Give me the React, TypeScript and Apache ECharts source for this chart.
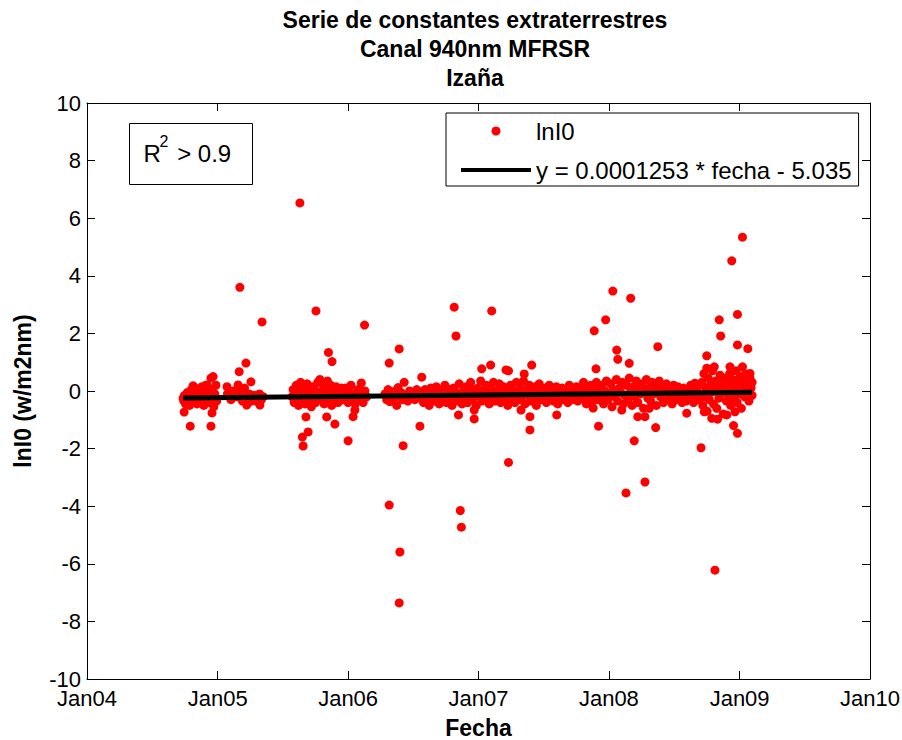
import React, { useEffect, useRef } from "react";
import * as echarts from "echarts";

const FONT = '"Liberation Sans", Arial, Helvetica, sans-serif';

// Excel serial dates ("fecha") of the January ticks
const tickFecha = [37987, 38353, 38718, 39083, 39448, 39814, 40179];
const tickLabels = ["Jan04", "Jan05", "Jan06", "Jan07", "Jan08", "Jan09", "Jan10"];
const yTicks = [-10, 10, 2];

// lnI0 values [fecha, lnI0], grouped by period
const late2004: [number, number][] = [
  [38256, -0.25], [38258, -0.35], [38259, -0.73], [38260, -0.15], [38263, -0.45], [38266, -0.2], [38268, -0.05],
  [38271, -0.3], [38274, -0.5], [38276, -0.1], [38276, -1.22], [38279, 0.05], [38281, -0.25], [38284, 0.18],
  [38284, -0.4], [38287, -0.15], [38289, 0.12], [38292, -0.3], [38295, -0.45], [38298, -0.2], [38300, 0.0],
  [38303, -0.35], [38306, -0.1], [38309, 0.15], [38311, -0.25], [38314, -0.5], [38317, -0.05], [38320, 0.2],
  [38322, -0.3], [38323, 0.21], [38325, 0.1], [38328, -0.4], [38331, -0.15], [38334, 0.45], [38334, -1.22],
  [38336, 0.05], [38337, -0.76], [38339, -0.25], [38340, 0.5], [38342, -0.55], [38345, -0.1], [38348, 0.2],
  [38350, -0.35],
];
const early2005: [number, number][] = [
  [38379, 0.15], [38380, -0.1], [38390, -0.3], [38398, 0.0], [38405, -0.2], [38410, 0.21], [38413, 0.67],
  [38415, 3.6], [38418, -0.05], [38422, -0.35], [38428, 0.1], [38432, 0.97], [38434, -0.49], [38438, -0.25],
  [38441, -0.1], [38443, -0.37], [38446, 0.32], [38450, -0.3], [38455, -0.15], [38460, -0.35], [38465, -0.2],
  [38470, -0.1], [38471, -0.49], [38475, -0.3], [38477, 2.4], [38480, -0.2],
];
const late2005: [number, number][] = [
  [38561, -0.2], [38564, 0.05], [38567, -0.4], [38570, -0.1], [38573, 0.2], [38576, -0.3], [38579, -0.5],
  [38582, -0.05], [38583, 6.53], [38585, 0.3], [38588, -0.25], [38590, -1.6], [38591, -0.15], [38592, -1.91],
  [38594, 0.1], [38597, -0.45], [38600, -0.2], [38600, -0.9], [38603, 0.25], [38606, 0.0], [38606, -1.42],
  [38609, -0.35], [38612, -0.1], [38615, -0.55], [38618, 0.15], [38621, -0.2], [38624, 0.05], [38627, -0.4],
  [38628, 2.78], [38630, -0.15], [38633, 0.3], [38636, -0.05], [38639, 0.4], [38642, -0.3], [38645, -0.1],
  [38648, 0.2], [38651, -0.45], [38654, -0.2], [38657, 0.0], [38658, -0.9], [38660, 0.35], [38663, 1.34],
  [38663, -0.3], [38666, -0.1], [38669, 0.2], [38672, -0.5], [38673, 1.02], [38675, -0.2], [38678, 0.05],
  [38681, -0.35], [38681, -1.15], [38684, 0.15], [38687, -0.15], [38690, -0.4], [38693, 0.0], [38696, -0.25],
  [38699, 0.1], [38702, -0.1], [38705, -0.3], [38710, 0.1], [38714, -0.2], [38718, -0.4], [38718, -1.73],
  [38722, -0.05], [38726, 0.2], [38730, -0.3], [38732, -0.89], [38734, -0.1], [38737, -0.66], [38738, -0.45],
  [38742, -0.2], [38746, 0.05], [38750, -0.3], [38755, 0.28], [38755, -0.15], [38760, -0.4], [38764, 2.29],
  [38765, 0.0], [38770, -0.2],
];
const mid2006: [number, number][] = [
  [38821, -0.1], [38826, -0.3], [38830, 0.05], [38833, 0.97], [38833, -3.96], [38835, -0.37], [38840, -0.15],
  [38845, -0.25], [38850, 0.0], [38854, -0.5], [38858, 0.12], [38861, 1.46], [38861, -7.36], [38862, -0.2],
  [38863, -5.59], [38866, -0.05], [38870, -0.3], [38872, -1.9], [38875, 0.3], [38880, -0.15], [38885, -0.35],
  [38890, 0.0], [38895, -0.2], [38900, -0.1], [38905, -0.3], [38910, 0.05], [38915, -0.2], [38919, -1.22],
  [38920, -0.05], [38924, 0.48],
];
const y2006to2008: [number, number][] = [
  [38925, -0.2], [38929, -0.4], [38933, 0.05], [38937, -0.3], [38941, -0.1], [38945, -0.5], [38949, 0.1],
  [38953, -0.25], [38957, -0.05], [38961, -0.35], [38965, 0.15], [38969, -0.2], [38973, -0.45], [38977, 0.0],
  [38981, -0.3], [38985, -0.1], [38989, 0.2], [38993, -0.4], [38997, -0.15], [39001, 0.05], [39005, -0.3],
  [39009, -0.5], [39013, 0.1], [39015, 2.91], [39017, -0.2], [39020, 1.91], [39021, -0.05], [39025, -0.35],
  [39027, -0.83], [39029, 0.25], [39032, -4.15], [39033, -0.15], [39035, -4.73], [39037, -0.45], [39041, 0.0],
  [39045, -0.25], [39049, 0.15], [39053, -0.4], [39057, -0.1], [39061, 0.3], [39065, -0.3], [39069, 0.05],
  [39071, -0.66], [39071, -0.97], [39073, -0.2], [39077, -0.5], [39081, 0.1], [39085, -0.15], [39089, 0.35],
  [39092, 0.77], [39093, -0.35], [39097, 0.0], [39101, -0.25], [39105, 0.2], [39109, -0.1], [39113, -0.45],
  [39117, 0.9], [39117, 0.1], [39120, 2.78], [39121, -0.2], [39125, 0.3], [39129, -0.35], [39133, 0.0],
  [39137, -0.15], [39141, 0.25], [39145, -0.4], [39149, -0.05], [39153, 0.15], [39157, -0.3], [39160, 0.73],
  [39161, 0.05], [39165, -0.5], [39167, 0.7], [39167, -2.48], [39169, -0.15], [39173, 0.2], [39177, -0.25],
  [39181, 0.0], [39185, -0.4], [39189, 0.3], [39193, -0.1], [39197, -0.3], [39201, 0.1], [39202, -0.66],
  [39205, -0.2], [39209, 0.35], [39211, 0.59], [39213, -0.45], [39217, 0.0], [39221, -0.15], [39225, 0.2],
  [39227, -0.89], [39227, -1.35], [39229, -0.35], [39232, 0.9], [39233, 0.05], [39237, -0.25], [39241, 0.15],
  [39245, -0.5], [39249, -0.05], [39253, 0.25], [39257, -0.3], [39261, 0.0], [39265, -0.15], [39269, 0.1],
  [39273, -0.4], [39277, -0.1], [39281, 0.2], [39285, -0.25], [39289, 0.05], [39293, -0.35], [39297, -0.1],
  [39301, 0.15], [39302, -0.83], [39305, -0.45], [39309, 0.0], [39313, -0.2], [39317, 0.1], [39321, -0.3],
  [39325, 0.05], [39329, -0.15], [39333, -0.4], [39337, 0.2], [39341, -0.1], [39345, -0.3], [39349, 0.0],
  [39353, -0.2], [39357, 0.15], [39361, -0.35], [39365, -0.05], [39369, 0.1], [39373, -0.25], [39377, 0.3],
  [39381, -0.15], [39385, -0.45], [39389, 0.05], [39393, -0.2], [39397, 0.2], [39401, -0.35], [39404, -0.59],
  [39405, 0.0], [39407, 2.09], [39409, -0.1], [39412, 0.77], [39413, 0.3], [39417, -0.3], [39419, -1.22],
  [39421, 0.1],
];
const y2008: [number, number][] = [
  [39425, -0.2], [39429, 0.2], [39433, -0.45], [39437, 0.0], [39439, 2.47], [39441, 0.35], [39445, -0.3],
  [39449, -0.1], [39453, 0.25], [39457, -0.55], [39459, 3.47], [39461, 0.05], [39465, -0.2], [39469, 0.4],
  [39470, 1.42], [39473, 1.1], [39473, -0.35], [39477, 0.1], [39481, -0.05], [39484, -0.66], [39485, 0.3],
  [39489, -0.45], [39493, -0.15], [39496, -3.54], [39497, 0.2], [39501, -0.3], [39505, 0.96], [39505, 0.45],
  [39509, 3.22], [39509, 0.0], [39513, -0.5], [39517, 0.15], [39519, -1.73], [39521, -0.2], [39525, 0.35],
  [39529, -0.89], [39529, -0.4], [39533, 0.05], [39537, -0.1], [39541, 0.25], [39545, -0.6], [39549, -0.89],
  [39549, -3.16], [39549, 0.0], [39553, 0.4], [39557, -0.25], [39561, -0.6], [39561, 0.1], [39565, -0.35],
  [39569, 0.3], [39573, -0.1], [39577, 0.2], [39579, -1.27], [39581, -0.5], [39585, 1.54], [39585, 0.05],
  [39589, 0.35], [39593, -0.2], [39597, 0.15], [39601, -0.4], [39605, 0.0], [39609, 0.25], [39613, -0.3],
  [39617, 0.1], [39621, -0.15], [39625, -0.45], [39629, 0.2], [39633, -0.05], [39637, -0.3], [39641, 0.15],
  [39645, -0.2], [39649, 0.05], [39653, -0.4], [39657, 0.1], [39661, -0.15], [39665, -0.35], [39666, -0.77],
  [39669, 0.0], [39673, -0.25], [39677, 0.2], [39681, -0.1], [39685, -0.4], [39689, 0.27], [39689, 0.05],
  [39693, -0.2], [39697, 0.15], [39701, -0.3],
];
const endOf2008: [number, number][] = [
  [39705, -0.1], [39706, -1.97], [39708, 0.3], [39711, -0.5], [39714, 0.6], [39715, -0.72], [39717, -0.2],
  [39720, 0.1], [39722, 1.22], [39722, 0.79], [39723, -0.7], [39726, 0.45], [39729, -0.3], [39732, 0.2],
  [39735, -0.05], [39736, -0.95], [39738, 0.7], [39741, -0.45], [39743, 0.84], [39744, 0.0], [39745, -6.22],
  [39747, 0.35], [39750, -0.6], [39752, -0.98], [39753, 0.15], [39756, -0.25], [39757, 2.47], [39759, 0.55],
  [39761, 1.91], [39762, -0.1], [39765, 0.3], [39768, -0.8], [39771, 0.05], [39774, 0.45], [39777, -0.35],
  [39778, -0.83], [39780, 0.2], [39783, -0.15], [39786, 0.6], [39787, 0.84], [39789, -0.5], [39792, 4.52],
  [39792, 0.1], [39795, 0.4], [39797, -1.2], [39798, -0.25], [39801, -0.72], [39801, 0.0], [39804, 0.7],
  [39807, -0.4], [39808, 2.66], [39808, 1.6], [39808, -1.47], [39810, 0.25], [39813, -0.1], [39816, 0.5],
  [39819, -0.6], [39822, 5.34], [39822, 0.84], [39822, 0.15], [39825, 0.35], [39828, -0.2], [39831, 0.6],
  [39834, -0.05], [39837, 1.47], [39837, 0.25], [39840, -0.35], [39843, 0.61], [39843, 0.45], [39846, 0.1],
  [39849, -0.15], [39849, 0.3],
];

// Linear fit shown in the legend: y = 0.0001253 * fecha - 5.035
const fitSlope = 0.0001253;
const fitIntercept = -5.035;
const fitFecha = [38256, 39849];

const scatterName = "lnI0";
const fitName = "y = 0.0001253 * fecha - 5.035";

export default function App() {
  const ref = useRef<HTMLDivElement>(null);
  useEffect(() => {
    document.body.style.margin = "0";
    const chart = echarts.init(ref.current!, null, { renderer: "svg" });
    const points = [...late2004, ...early2005, ...late2005, ...mid2006, ...y2006to2008, ...y2008, ...endOf2008];
    const fitLine = fitFecha.map((f) => [f, fitSlope * f + fitIntercept]);
    const fmt = (v: number) => {
      const i = tickFecha.indexOf(Math.round(v));
      return i >= 0 ? tickLabels[i] : "";
    };
    const xCommon = {
      type: "value" as const,
      min: tickFecha[0],
      max: tickFecha[tickFecha.length - 1],
      splitLine: { show: false },
      axisLine: { show: true, onZero: false, lineStyle: { color: "#000", width: 1 } },
    };
    const yCommon = {
      type: "value" as const,
      min: yTicks[0],
      max: yTicks[1],
      interval: yTicks[2],
      splitLine: { show: false },
      axisLine: { show: true, onZero: false, lineStyle: { color: "#000", width: 1 } },
      axisTick: { show: true, inside: true, length: 8, lineStyle: { color: "#000" } },
    };
    chart.setOption({
      animation: false,
      backgroundColor: "#fff",
      title: {
        text: "Serie de constantes extraterrestres\nCanal 940nm MFRSR\nIzaña",
        left: 475,
        top: 5,
        padding: 0,
        textAlign: "center",
        textStyle: { fontFamily: FONT, fontSize: 23, fontWeight: "bold", color: "#000", lineHeight: 29 },
      },
      grid: { left: 87, right: 32, top: 103, bottom: 61, outerBoundsMode: "none", containLabel: false },
      legend: {
        orient: "vertical",
        left: 446,
        top: 113,
        itemWidth: 70,
        itemHeight: 9,
        itemGap: 15,
        padding: [6, 7, 4, 15],
        borderColor: "#000",
        borderWidth: 1,
        backgroundColor: "#fff",
        textStyle: { fontFamily: FONT, fontSize: 24, color: "#000" },
        data: [
          { name: scatterName, icon: "circle" },
          { name: fitName, icon: "path://M0,0H70V4H0Z" },
        ],
      },
      xAxis: [
        {
          ...xCommon,
          position: "bottom",
          name: "Fecha",
          nameLocation: "middle",
          nameGap: 37,
          nameTextStyle: { fontFamily: FONT, fontSize: 23, fontWeight: "bold", color: "#000" },
          axisTick: { show: true, inside: true, length: 8, customValues: tickFecha, lineStyle: { color: "#000" } },
          axisLabel: {
            customValues: tickFecha,
            formatter: fmt,
            margin: 8,
            fontFamily: FONT,
            fontSize: 22,
            color: "#000",
          },
        },
        {
          ...xCommon,
          position: "top",
          axisTick: { show: true, inside: true, length: 8, customValues: tickFecha, lineStyle: { color: "#000" } },
          axisLabel: { show: false },
        },
      ],
      yAxis: [
        {
          ...yCommon,
          position: "left",
          name: "lnI0 (w/m2nm)",
          nameLocation: "middle",
          nameGap: 53,
          nameTextStyle: { fontFamily: FONT, fontSize: 23, fontWeight: "bold", color: "#000" },
          axisLabel: { margin: 6, fontFamily: FONT, fontSize: 22, color: "#000" },
        },
        {
          ...yCommon,
          position: "right",
          axisLabel: { show: false },
        },
      ],
      series: [
        {
          name: scatterName,
          type: "scatter",
          data: points,
          symbol: "circle",
          symbolSize: 9,
          itemStyle: { color: "#ff0000", opacity: 1 },
          z: 2,
        },
        {
          name: fitName,
          type: "line",
          data: fitLine,
          showSymbol: false,
          symbol: "none",
          lineStyle: { color: "#000", width: 5 },
          itemStyle: { color: "#000" },
          z: 3,
        },
      ],
      graphic: [
        {
          type: "group",
          left: 129,
          top: 123,
          children: [
            { type: "rect", shape: { x: 0, y: 0, width: 123, height: 61 }, style: { fill: "#fff", stroke: "#000", lineWidth: 1 } },
            { type: "text", x: 14, y: 30, style: { text: "R", font: `24px ${FONT}`, fill: "#000", textVerticalAlign: "middle" } },
            { type: "text", x: 30, y: 18, style: { text: "2", font: `16px ${FONT}`, fill: "#000", textVerticalAlign: "middle" } },
            { type: "text", x: 41, y: 30, style: { text: " > 0.9", font: `24px ${FONT}`, fill: "#000", textVerticalAlign: "middle" } },
          ],
        },
      ],
    });
    return () => chart.dispose();
  }, []);
  return <div ref={ref} style={{ width: 902, height: 740, position: "absolute", left: 0, top: 0 }} />;
}
